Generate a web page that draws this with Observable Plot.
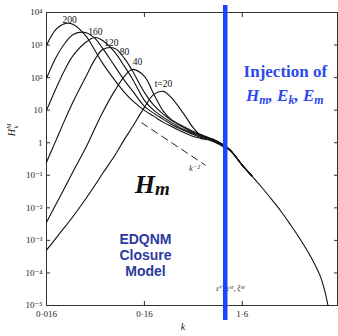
<!DOCTYPE html>
<html><head><meta charset="utf-8">
<script src="https://cdn.jsdelivr.net/npm/d3@7"></script>
<script src="https://cdn.jsdelivr.net/npm/@observablehq/plot@0.6"></script>
<style>body{margin:0;background:#fff}</style>
</head><body><div id="chart"></div>
<script>
// wavenumber grid shared by the six spectra (left part)
const kGrid = [0.016, 0.02, 0.025, 0.03, 0.04, 0.05, 0.06, 0.08, 0.1, 0.12, 0.16, 0.2, 0.25, 0.3, 0.4, 0.5, 0.6, 0.8, 1.0, 1.2];
// magnetic helicity spectra H_k^M at each time
const H_t20  = [0.0005, 0.00117, 0.00273, 0.00553, 0.0184, 0.0493, 0.115, 0.411, 1.27, 2.97, 12.2, 30.5, 37.7, 24.7, 7.98, 2.97, 1.69, 1.18, 0.832, 0.585];
const H_t40  = [0.00362, 0.0129, 0.046, 0.133, 0.673, 2.77, 8.56, 40.5, 109, 178, 109, 30.5, 9.19, 5.22, 3.18, 2.24, 1.81, 1.27, 0.893, 0.6];
const H_t80  = [0.25, 1.18, 5.60, 18.6, 101, 362, 733, 787, 388, 166, 35.2, 14.0, 7.43, 4.87, 2.97, 2.08, 1.69, 1.27, 0.893, 0.6];
const H_t120 = [9.86, 46.6, 192, 480, 1200, 1710, 1380, 593, 221, 94.5, 20.0, 9.86, 6.01, 4.22, 2.58, 1.94, 1.57, 1.27, 0.893, 0.6];
const H_t160 = [94.5, 417, 1200, 2115, 2435, 1594, 787, 221, 82.1, 40.5, 13.1, 7.98, 5.22, 3.67, 2.40, 1.81, 1.46, 1.18, 0.832, 0.585];
const H_t200 = [972, 3010, 4600, 4280, 1970, 683, 273, 82.1, 35.2, 20.0, 9.86, 6.45, 4.22, 3.18, 2.08, 1.57, 1.36, 1.10, 0.776, 0.57];
// common dissipative tail
const kTail = [1.6, 2, 2.5, 3, 4, 5, 6, 8, 10, 11, 12];
const HTail = [0.203, 0.0965, 0.0444, 0.0227, 0.0076, 0.00293, 0.0013, 0.000316, 0.00008, 0.0000318, 0.00001];
// curve labels
const curveNames = ["t=20", "40", "80", "120", "160", "200"];
const labelK = [0.25, 0.136, 0.1, 0.0736, 0.0506, 0.0275];
const labelH = [61.8, 293, 593, 1200, 2440, 6100];
// k^-2 reference slope
const slopeK = [0.15, 0.67];
const slopeH = [4.1, 0.205];
// injection wavenumber
const kInjection = 1.07;
// ticks
const xTicks = [0.016, 0.16, 1.6];
const xTickLabels = ["0·016", "0·16", "1·6"];
const yTicks = [1e4, 1e3, 1e2, 10, 1, 0.1, 0.01, 1e-3, 1e-4, 1e-5];
const yTickLabels = ["10⁴", "10³", "10²", "10", "1", "10⁻¹", "10⁻²", "10⁻³", "10⁻⁴", "10⁻⁵"];

const seriesH = [H_t20, H_t40, H_t80, H_t120, H_t160, H_t200];
const rows = [];
seriesH.forEach((arr, s) => {
  kGrid.forEach((k, i) => rows.push({t: curveNames[s], k, H: arr[i]}));
  // each spectrum joins the shared tail over its first two points
  kTail.slice(0, 2).forEach((k, i) => rows.push({t: curveNames[s], k, H: HTail[i]}));
});
const tailRows = kTail.map((k, i) => ({k, H: HTail[i]}));
const slopeRows = slopeK.map((k, i) => ({k, H: slopeH[i]}));
const labelRows = curveNames.map((n, i) => ({n, k: labelK[i], H: labelH[i]}));

const serif = "'Liberation Serif', 'DejaVu Serif', serif";
const blue = "#1a44ff";

const chart = Plot.plot({
  width: 338, height: 336,
  marginLeft: 46, marginRight: 1, marginTop: 12, marginBottom: 31,
  style: {fontFamily: serif, fontSize: "9px", background: "#fff", color: "#222"},
  x: {type: "log", domain: [0.016, 15]},
  y: {type: "log", domain: [1e-5, 1e4]},
  marks: [
    Plot.frame({stroke: "#333", strokeWidth: 1}),
    Plot.axisY({anchor: "left", ticks: yTicks, tickSize: -4, tickFormat: () => "", label: null, stroke: "#333"}),
    Plot.axisY({anchor: "left", ticks: yTicks, tickSize: 0, tickPadding: 4, tickFormat: d => yTickLabels[yTicks.indexOf(d)], label: null, fontSize: 9}),
    Plot.axisY({anchor: "right", ticks: yTicks, tickSize: -4, tickFormat: () => "", label: null, stroke: "#333"}),
    Plot.axisX({anchor: "bottom", ticks: xTicks, tickSize: -4, tickFormat: () => "", label: null, stroke: "#333"}),
    Plot.axisX({anchor: "bottom", ticks: xTicks, tickSize: 0, tickPadding: 5, tickFormat: d => xTickLabels[xTicks.indexOf(d)], label: null, fontSize: 9}),
    Plot.axisX({anchor: "top", ticks: xTicks, tickSize: -4, tickFormat: () => "", label: null, stroke: "#333"}),
    Plot.line(rows, {x: "k", y: "H", z: "t", stroke: "#111", strokeWidth: 1.1, curve: "catmull-rom"}),
    Plot.line(tailRows, {x: "k", y: "H", stroke: "#111", strokeWidth: 1.1, curve: "catmull-rom"}),
    Plot.line(slopeRows, {x: "k", y: "H", stroke: "#222", strokeWidth: 1, strokeDasharray: "7,5"}),
    Plot.text(labelRows, {x: "k", y: "H", text: "n", fontSize: 9.5, fill: "#111"}),
    Plot.text([{s: "k⁻²", k: 0.517, H: 0.164}], {x: "k", y: "H", text: "s", fontSize: 8.5, fontStyle: "italic", fill: "#333"}),
    Plot.text([{s: "εⱽ, εᴹ, ξᴹ", k: 1.21, H: 3.4e-5}], {x: "k", y: "H", text: "s", fontSize: 7.5, fontStyle: "italic", fill: "#333"}),
    Plot.text([{s: "EDQNM\nClosure\nModel", k: 0.164, H: 3.5e-4}], {x: "k", y: "H", text: "s", fontFamily: "'Liberation Sans', Arial, sans-serif", fontWeight: "bold", fontSize: 14, lineHeight: 1.15, fill: "#2b3a9f"}),
    Plot.text([{s: "Injection of", k: 4.4, H: 149}], {x: "k", y: "H", text: "s", fontFamily: serif, fontWeight: "bold", fontSize: 17, fill: "#2c4be8"}),
    Plot.ruleX([kInjection], {stroke: blue, strokeWidth: 4.5, insetTop: -7, insetBottom: -15})
  ]
});
document.getElementById("chart").append(chart);

const xs = chart.scale("x"), ys = chart.scale("y");
const svg = d3.select(chart);
function rich(x, y, parts, attrs) {
  const t = svg.append("text").attr("x", x).attr("y", y);
  for (const [a, v] of Object.entries(attrs)) t.attr(a, v);
  let shift = 0;
  for (const p of parts) {
    const target = p.sub ? (p.subShift ?? 3) : p.sup ? (p.supShift ?? -4) : 0;
    const ts = t.append("tspan").text(p.t).attr("dy", target - shift);
    if (p.size) ts.attr("font-size", p.size);
    if (p.dx) ts.attr("dx", p.dx);
    shift = target;
  }
  return t;
}
// Injection of  H_m, E_k, E_m
rich(xs.apply(4.4), ys.apply(18.6), [
  {t: "H"}, {t: "m", sub: true, size: 12}, {t: ", E"}, {t: "k", sub: true, size: 12}, {t: ", E"}, {t: "m", sub: true, size: 12}
], {"text-anchor": "middle", "font-family": serif, "font-weight": "bold", "font-style": "italic", "font-size": 17, fill: "#2c4be8"});
// big H_m
rich(xs.apply(0.129), ys.apply(0.028), [
  {t: "H"}, {t: "m", sub: true, subShift: 2, size: 19}
], {"text-anchor": "start", "font-family": serif, "font-weight": "bold", "font-style": "italic", "font-size": 26, fill: "#111"});
// y-axis title H_k^M (rotated)
const yl = svg.append("g").attr("transform", `translate(15,${ys.apply(2.4)}) rotate(-90)`);
const ylt = yl.append("text").attr("text-anchor", "middle").attr("font-family", serif).attr("font-style", "italic").attr("font-size", 10).attr("fill", "#222");
ylt.append("tspan").text("H");
ylt.append("tspan").text("M").attr("font-size", 6.5).attr("dy", -4);
ylt.append("tspan").text("k").attr("font-size", 6.5).attr("dx", -5).attr("dy", 7);
// x-axis title k
svg.append("text").attr("x", xs.apply(0.4)).attr("y", 330).attr("text-anchor", "middle")
  .attr("font-family", serif).attr("font-style", "italic").attr("font-size", 10).attr("fill", "#222").text("k");
</script>
</body></html>
